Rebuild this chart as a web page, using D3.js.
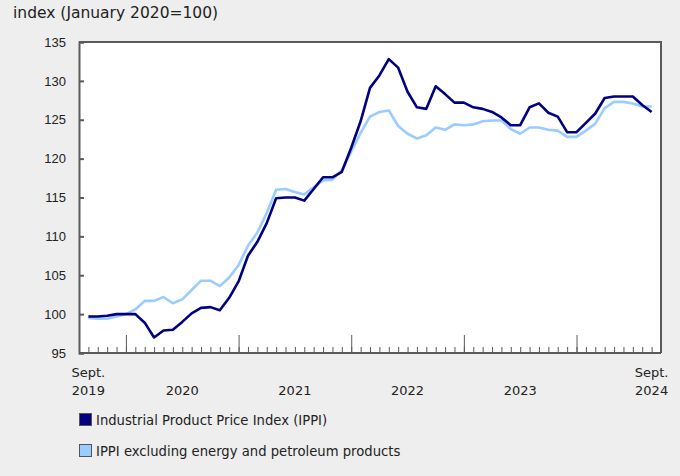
<!DOCTYPE html>
<html>
<head>
<meta charset="utf-8">
<script src="https://cdn.jsdelivr.net/npm/d3@7"></script>
<style>
	body { margin: 0; background: #eeeeee; }
	svg { display: block; font-family: "DejaVu Sans", Verdana, sans-serif; }
	.axis path, .axis line { stroke: #5a5a5a; }
	.axis text { fill: #222; font-size: 13px; }
</style>
</head>
<body>
<div id="chart"></div>
<script>
// Monthly index values, September 2019 to September 2024 (January 2020=100)
var ippi = [
	99.7, 99.7, 99.8, 100.0, 100.0, 100.0, 98.9, 97.0, 97.9, 98.0, 99.0, 100.1,
	100.8, 100.9, 100.5, 102.1, 104.2, 107.5, 109.3, 111.7, 114.9, 115.0, 115.0, 114.6,
	116.1, 117.6, 117.6, 118.3, 121.4, 124.8, 129.1, 130.7, 132.8, 131.7, 128.6, 126.6,
	126.4, 129.3, 128.3, 127.2, 127.2, 126.6, 126.4, 126.0, 125.3, 124.3, 124.3, 126.6,
	127.1, 125.9, 125.4, 123.4, 123.4, 124.6, 125.8, 127.8, 128.0, 128.0, 128.0, 126.9,
	126.0
];
var ippiExEnergy = [
	99.5, 99.4, 99.4, 99.7, 100.0, 100.6, 101.7, 101.7, 102.2, 101.4, 101.9, 103.1,
	104.3, 104.3, 103.6, 104.7, 106.3, 108.8, 110.5, 113.0, 116.0, 116.1, 115.7, 115.4,
	116.3, 117.2, 117.3, 118.5, 120.9, 123.3, 125.4, 126.0, 126.2, 124.2, 123.2, 122.6,
	123.0, 124.0, 123.7, 124.4, 124.3, 124.4, 124.8, 124.9, 124.9, 123.8, 123.2, 124.0,
	124.0, 123.7, 123.6, 122.8, 122.8, 123.6, 124.5, 126.5, 127.3, 127.3, 127.1, 126.7,
	126.7
];
var seriesNames = [
	'Industrial Product Price Index (IPPI)',
	'IPPI excluding energy and petroleum products'
];
var seriesColors = ['#000080', '#99ccff'];
var yTicks = [95, 100, 105, 110, 115, 120, 125, 130, 135];
// x labels: month key and the text lines under the axis
var xLabelMonths = ['2019-09', '2020-07', '2021-07', '2022-07', '2023-07', '2024-09'];
var xLabelLines = [['Sept.', '2019'], ['', '2020'], ['', '2021'], ['', '2022'], ['', '2023'], ['Sept.', '2024']];
var yTitle = 'index (January 2020=100)';

(function() {
	var width = 680, height = 476;
	var plot = { left: 79, right: 661, top: 42, bottom: 353 };
	var fmt = d3.timeFormat('%Y-%m');
	var months = d3.timeMonth.range(new Date(2019, 8, 1), new Date(2024, 9, 1)).map(fmt);
	var januaries = months.filter(function(m) { return m.slice(5) === '01'; });

	var x = d3.scalePoint().domain(months).range([plot.left, plot.right]).padding(1);
	var y = d3.scaleLinear().domain([95, 135]).range([plot.bottom, plot.top]);

	var svg = d3.select('#chart').append('svg')
		.attr('width', width)
		.attr('height', height);

	svg.append('rect').attr('width', width).attr('height', height).attr('fill', '#eeeeee');
	svg.append('rect')
		.attr('x', plot.left).attr('y', plot.top)
		.attr('width', plot.right - plot.left).attr('height', plot.bottom - plot.top)
		.attr('fill', '#ffffff');

	// title
	svg.append('text')
		.attr('x', 13).attr('y', 18)
		.attr('font-size', '15.5px')
		.attr('fill', '#222')
		.text(yTitle);

	// lines
	var line = d3.line()
		.x(function(d, i) { return x(months[i]); })
		.y(function(d) { return y(d); });
	[ippiExEnergy, ippi].forEach(function(s, k) {
		svg.append('path')
			.datum(s)
			.attr('fill', 'none')
			.attr('stroke', seriesColors[1 - k])
			.attr('stroke-width', 2.6)
			.attr('stroke-linejoin', 'round')
			.attr('d', line);
	});

	// frame top / right
	svg.append('path')
		.attr('d', 'M' + plot.left + ',' + plot.top + 'H' + plot.right + 'V' + plot.bottom)
		.attr('fill', 'none').attr('stroke', '#5a5a5a').attr('stroke-width', 2);

	// y axis
	var gy = svg.append('g').attr('class', 'axis')
		.attr('transform', 'translate(' + plot.left + ',0)')
		.call(d3.axisLeft(y).tickValues(yTicks).tickSize(-5).tickPadding(13));
	gy.select('.domain').attr('stroke-width', 2);
	gy.selectAll('.tick line').attr('stroke-width', 2);

	// x axis: minor month ticks and major january ticks
	var gx = svg.append('g').attr('class', 'axis')
		.attr('transform', 'translate(0,' + plot.bottom + ')')
		.call(d3.axisBottom(x).tickValues(months).tickSize(-6).tickFormat(''));
	gx.select('.domain').attr('stroke-width', 2).attr('d', 'M' + plot.left + ',0H' + plot.right);
	var gxMajor = svg.append('g').attr('class', 'axis')
		.attr('transform', 'translate(0,' + plot.bottom + ')')
		.call(d3.axisBottom(x).tickValues(januaries).tickSize(-18).tickFormat(''));
	gxMajor.select('.domain').remove();

	var labels = svg.append('g').attr('class', 'axis');
	xLabelMonths.forEach(function(m, i) {
		var t = labels.append('text')
			.attr('text-anchor', 'middle')
			.attr('x', x(m));
		t.append('tspan').attr('x', x(m)).attr('y', 377).text(xLabelLines[i][0]);
		t.append('tspan').attr('x', x(m)).attr('y', 395).text(xLabelLines[i][1]);
	});

	// legend
	var legend = svg.append('g').attr('transform', 'translate(79,413)');
	seriesNames.forEach(function(name, i) {
		var g = legend.append('g').attr('transform', 'translate(0,' + (i * 31) + ')');
		g.append('rect')
			.attr('x', 0.5).attr('y', 0.5)
			.attr('width', 12).attr('height', 12)
			.attr('fill', seriesColors[i])
			.attr('stroke', '#555');
		g.append('text')
			.attr('x', 17).attr('y', 11.5)
			.attr('font-size', '13.2px')
			.attr('fill', '#222')
			.text(name);
	});
})();
</script>
</body>
</html>
